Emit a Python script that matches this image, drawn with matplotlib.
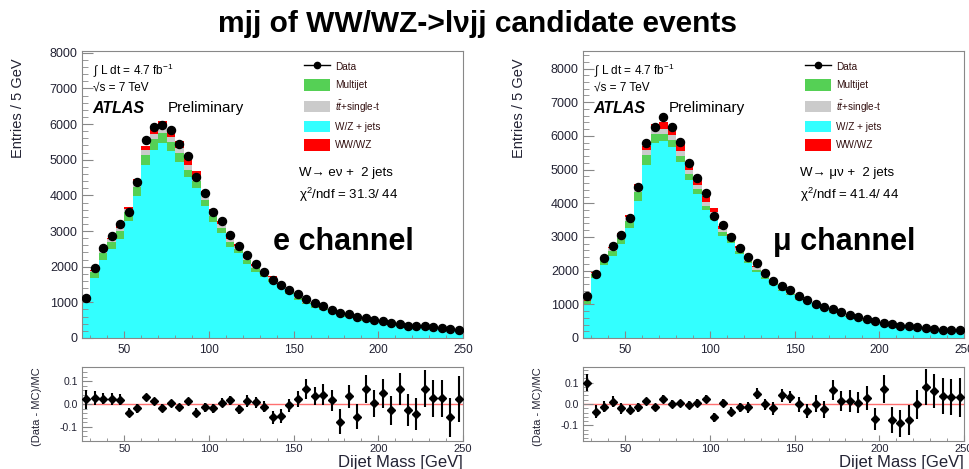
import numpy as np
import matplotlib
matplotlib.use("Agg")
import matplotlib.pyplot as plt
from matplotlib.lines import Line2D
from matplotlib.patches import Patch
from matplotlib.ticker import MultipleLocator, FixedLocator

plt.rcParams['font.family'] = ['Liberation Sans', 'DejaVu Sans']
plt.rcParams['mathtext.fontset'] = 'custom'
plt.rcParams['mathtext.rm'] = 'Liberation Sans'
plt.rcParams['mathtext.it'] = 'Liberation Sans:italic'
plt.rcParams['mathtext.bf'] = 'Liberation Sans:bold'

# ---------------- data ----------------
mass = np.arange(27.5, 250, 5.0)   # bin centres (5 GeV bins, 25-250 GeV)

# electron channel
e_data = [1128, 1958, 2527, 2872, 3189, 3543, 4364, 5550, 5930, 5978, 5840, 5435, 5100, 4503, 4065,
          3543, 3291, 2890, 2573, 2331, 2079, 1865, 1632, 1473, 1352, 1221, 1100, 979, 895, 793,
          699, 662, 587, 569, 513, 466, 420, 401, 345, 336, 326, 308, 289, 261, 233]
e_wzjets = [986, 1690, 2185, 2495, 2785, 3292, 3984, 4850, 5280, 5475, 5232, 4942, 4505, 4196, 3703,
            3252, 2953, 2564, 2381, 2074, 1862, 1706, 1570, 1403, 1227, 1078, 942, 848, 772, 702,
            668, 584, 550, 486, 461, 410, 391, 348, 321, 313, 280, 273, 257, 246, 214]
e_multijet = [80, 150, 190, 200, 210, 230, 260, 290, 290, 280, 260, 240, 220, 200, 180,
              160, 145, 130, 118, 105, 95, 85, 77, 70, 62, 55, 50, 45, 40, 36,
              33, 30, 27, 24, 22, 20, 18, 16, 15, 14, 13, 12, 11, 10, 9]
e_top = [25, 45, 60, 70, 80, 95, 115, 135, 145, 150, 145, 140, 130, 125, 115,
         105, 98, 90, 85, 78, 72, 66, 60, 55, 50, 45, 41, 37, 34, 31,
         28, 26, 24, 22, 20, 18, 17, 15, 14, 13, 12, 11, 10, 10, 9]
e_diboson = [15, 25, 35, 45, 55, 70, 90, 115, 145, 170, 185, 190, 180, 160, 125,
             95, 75, 60, 50, 42, 36, 31, 27, 24, 21, 19, 17, 15, 14, 12,
             11, 10, 9, 8, 8, 7, 6, 6, 5, 5, 5, 4, 4, 4, 3]
e_ratio = [0.020, 0.025, 0.023, 0.022, 0.019, -0.039, -0.019, 0.030, 0.012, -0.016, 0.003, -0.014, 0.013,
           -0.038, -0.014, -0.019, 0.006, 0.016, -0.023, 0.014, 0.007, -0.012, -0.059, -0.051, -0.006,
           0.020, 0.065, 0.036, 0.041, 0.016, -0.077, 0.033, -0.055, 0.065, 0.003, 0.046, -0.028,
           0.065, -0.028, -0.045, 0.067, 0.025, 0.025, -0.058, 0.022]
e_ratio_err = [0.04, 0.03, 0.025, 0.025, 0.025, 0.02, 0.02, 0.015, 0.015, 0.015, 0.015, 0.015, 0.015,
               0.02, 0.02, 0.02, 0.02, 0.02, 0.02, 0.025, 0.025, 0.025, 0.03, 0.03, 0.03,
               0.035, 0.045, 0.04, 0.045, 0.045, 0.055, 0.05, 0.055, 0.06, 0.06, 0.065, 0.065,
               0.07, 0.07, 0.07, 0.08, 0.08, 0.08, 0.085, 0.1]

# muon channel
m_data = [1241, 1896, 2372, 2739, 3067, 3563, 4496, 5785, 6263, 6561, 6263, 5830, 5200, 4760, 4298,
          3613, 3355, 2988, 2680, 2390, 2213, 1916, 1697, 1548, 1439, 1251, 1141, 1022, 923, 854,
          774, 695, 625, 576, 506, 447, 407, 367, 347, 328, 308, 268, 248, 228, 228]
m_wzjets = [1015, 1784, 2163, 2427, 2803, 3264, 4069, 5135, 5795, 5846, 5668, 5217, 4686, 4264, 3794,
            3509, 3034, 2832, 2484, 2215, 1958, 1747, 1577, 1381, 1267, 1141, 1058, 928, 857, 744,
            695, 623, 564, 513, 482, 406, 386, 358, 332, 298, 267, 234, 216, 203, 193]
m_multijet = [70, 110, 140, 160, 180, 220, 280, 300, 250, 200, 200, 190, 170, 150, 135,
              120, 110, 100, 90, 80, 72, 65, 58, 52, 47, 42, 38, 34, 31, 28,
              25, 23, 21, 19, 17, 16, 14, 13, 12, 11, 10, 9, 9, 8, 8]
m_top = [25, 45, 60, 72, 85, 100, 120, 140, 150, 155, 152, 148, 140, 132, 122,
         112, 104, 96, 90, 84, 78, 72, 66, 60, 55, 50, 45, 41, 37, 34,
         31, 28, 26, 24, 22, 20, 18, 17, 15, 14, 13, 12, 11, 10, 10]
m_diboson = [18, 28, 40, 50, 62, 78, 100, 130, 170, 200, 230, 240, 220, 190, 150,
             115, 90, 72, 60, 50, 42, 36, 31, 27, 24, 21, 19, 17, 15, 14,
             12, 11, 10, 9, 9, 8, 7, 7, 6, 6, 5, 5, 4, 4, 4]
m_ratio = [0.100, -0.036, -0.013, 0.011, -0.020, -0.027, -0.016, 0.014, -0.016, 0.025, 0.002, 0.006, -0.003,
           0.005, 0.023, -0.063, 0.005, -0.036, -0.016, -0.016, 0.048, -0.002, -0.020, 0.040, 0.033,
           -0.002, -0.033, 0.002, -0.025, 0.066, 0.014, 0.014, 0.006, 0.028, -0.070, 0.072, -0.075,
           -0.091, -0.077, -0.002, 0.081, 0.061, 0.036, 0.033, 0.031]
m_ratio_err = [0.04, 0.03, 0.025, 0.025, 0.025, 0.02, 0.02, 0.015, 0.015, 0.015, 0.015, 0.015, 0.015,
               0.02, 0.02, 0.02, 0.02, 0.02, 0.02, 0.025, 0.025, 0.025, 0.03, 0.03, 0.03,
               0.035, 0.035, 0.04, 0.04, 0.045, 0.045, 0.05, 0.05, 0.055, 0.05, 0.065, 0.06,
               0.065, 0.07, 0.07, 0.085, 0.08, 0.085, 0.085, 0.09]

labels_bkg = ["W/Z + jets", "Multijet", "$t\\bar{t}$+single-t", "WW/WZ"]
colors_bkg = ["#33FFFF", "#55D055", "#CBCBCB", "#FF0000"]

W, H = 970, 469
fig = plt.figure(figsize=(W / 100, H / 100), dpi=100)

def fx(px):
    return px / W

def fy(py):
    return 1 - py / H

TICKC = "#222233"
SPINEC = "#888888"


def style_axis(ax):
    for s in ax.spines.values():
        s.set_color(SPINEC)
        s.set_linewidth(0.8)
    ax.tick_params(which='both', direction='in', colors=SPINEC, labelcolor=TICKC,
                   top=False, right=False)


def draw_channel(x0, data, comps, ratio, rerr, ymax, rlim, chan_text, chi_text, big_text):
    # main panel
    ax = fig.add_axes([fx(x0), fy(338), fx(381), (338 - 51) / H])
    bottom = np.zeros(len(mass))
    for vals, col in zip(comps, colors_bkg):
        vals = np.asarray(vals, float)
        ax.bar(mass, vals, width=5.0, bottom=bottom, color=col, linewidth=0, align='center')
        bottom = bottom + vals
    ax.plot(mass, data, 'o', color='black', ms=5.8, zorder=5)
    ax.set_xlim(25, 250)
    ax.set_ylim(0, ymax)
    ax.yaxis.set_major_locator(MultipleLocator(1000))
    ax.yaxis.set_minor_locator(MultipleLocator(200))
    ax.xaxis.set_major_locator(FixedLocator([50, 100, 150, 200, 250]))
    ax.xaxis.set_minor_locator(MultipleLocator(10))
    style_axis(ax)
    ax.tick_params(axis='y', which='major', length=8, labelsize=9, pad=3)
    ax.tick_params(axis='y', which='minor', length=4)
    ax.tick_params(axis='x', which='major', length=5, labelsize=8.5, pad=4)
    ax.tick_params(axis='x', which='minor', length=2.5)
    fig.text(fx(x0 - 64), fy(108), "Entries / 5 GeV", rotation=90, ha='center', va='center',
             fontsize=10.5, color=TICKC)

    ax.text(0.028, 0.935, "$\\int$ L dt = 4.7 fb$^{-1}$", transform=ax.transAxes,
            fontsize=8.5, va='center', ha='left')
    ax.text(0.028, 0.873, "\u221as = 7 TeV", transform=ax.transAxes,
            fontsize=8.5, va='center', ha='left')
    ax.text(0.028, 0.80, "ATLAS", transform=ax.transAxes, fontsize=11.5,
            fontweight='bold', fontstyle='italic', va='center', ha='left')
    ax.text(0.225, 0.80, "Preliminary", transform=ax.transAxes, fontsize=11,
            va='center', ha='left')

    handles = [Line2D([0], [0], color='black', marker='o', ms=4.5, lw=1)]
    handles += [Patch(facecolor=c, edgecolor='none') for c in [colors_bkg[1], colors_bkg[2],
                                                               colors_bkg[0], colors_bkg[3]]]
    labs = ["Data", labels_bkg[1], labels_bkg[2], labels_bkg[0], labels_bkg[3]]
    leg = ax.legend(handles, labs, loc='upper left', bbox_to_anchor=(0.565, 0.99),
                    frameon=False, fontsize=7.2, handlelength=2.6, handleheight=1.35,
                    labelspacing=0.72, handletextpad=0.45, borderpad=0.2)
    for t in leg.get_texts():
        t.set_color("#331111")

    ax.text(0.57, 0.575, chan_text, transform=ax.transAxes, fontsize=9.5, va='center', ha='left')
    ax.text(0.57, 0.500, chi_text, transform=ax.transAxes, fontsize=9.5, va='center', ha='left')
    ax.text(0.685, 0.335, big_text, transform=ax.transAxes, fontsize=22, fontweight='bold',
            va='center', ha='center')

    # ratio panel
    ar = fig.add_axes([fx(x0), fy(441), fx(381), (441 - 367) / H])
    ar.axhline(0.0, color="#FF7070", lw=1.0, zorder=1)
    ar.errorbar(mass, ratio, yerr=rerr, xerr=1.4, fmt='D', color='black', ms=4.2,
                elinewidth=1.5, capsize=0, zorder=3)
    ar.set_xlim(25, 250)
    ar.set_ylim(-rlim, rlim)
    ar.yaxis.set_major_locator(FixedLocator([-0.1, 0.0, 0.1]))
    ar.yaxis.set_minor_locator(MultipleLocator(0.02))
    ar.yaxis.set_major_formatter(matplotlib.ticker.FuncFormatter(lambda v, p: "%.1f" % v))
    ar.xaxis.set_major_locator(FixedLocator([50, 100, 150, 200, 250]))
    ar.xaxis.set_minor_locator(MultipleLocator(10))
    style_axis(ar)
    ar.tick_params(axis='y', which='major', length=7, labelsize=7.5, pad=3)
    ar.tick_params(axis='y', which='minor', length=3.5)
    ar.tick_params(axis='x', which='major', length=4, labelsize=8, pad=2)
    ar.tick_params(axis='x', which='minor', length=2)
    fig.text(fx(x0 - 45), fy(407), "(Data - MC)/MC", rotation=90, ha='center', va='center',
             fontsize=8, color=TICKC)
    fig.text(fx(x0 + 381), fy(462), "Dijet Mass [GeV]", ha='right', va='center',
             fontsize=12, color=TICKC)


draw_channel(82, e_data, [e_wzjets, e_multijet, e_top, e_diboson], e_ratio, e_ratio_err,
             8050, 0.162, "W\u2192 e\u03bd +  2 jets", "\u03c7$^{2}$/ndf = 31.3/ 44", "e channel")
draw_channel(583, m_data, [m_wzjets, m_multijet, m_top, m_diboson], m_ratio, m_ratio_err,
             8520, 0.174, "W\u2192 \u03bc\u03bd +  2 jets", "\u03c7$^{2}$/ndf = 41.4/ 44",
             "\u03bc channel")

fig.text(fx(478), fy(24), "mjj of WW/WZ->l\u03bdjj candidate events", ha='center', va='center',
         fontsize=21.5, fontweight='bold')

fig.savefig("out.png", dpi=100)
